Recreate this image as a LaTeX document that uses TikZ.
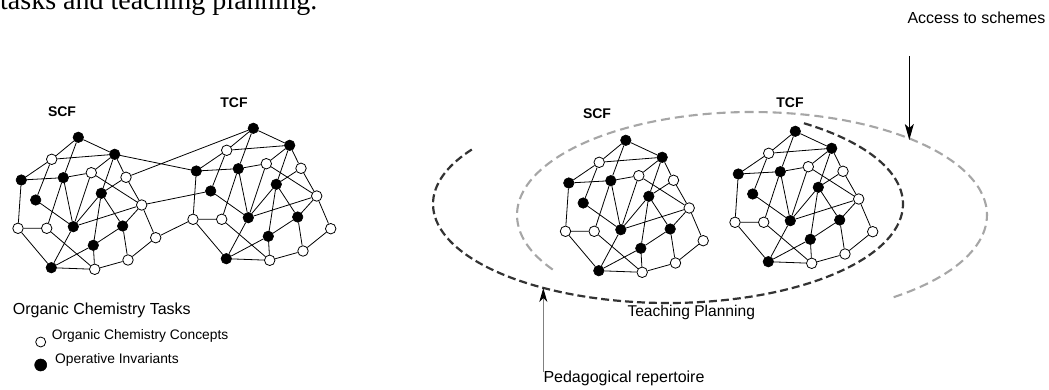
\documentclass[tikz,border=0pt]{standalone}
\usepackage{fontspec}
\setmainfont{Liberation Sans}
\newfontfamily\serifF{Liberation Serif}
\usetikzlibrary{arrows.meta}
\definecolor{darkdash}{HTML}{333333}
\definecolor{lightdash}{HTML}{A6A6A6}
\tikzset{
  fnode/.style={circle, fill=black, draw=black, line width=0.6pt, inner sep=0pt, minimum size=10.5pt},
  onode/.style={circle, fill=white, draw=black, line width=0.8pt, inner sep=0pt, minimum size=10.5pt},
  edgeline/.style={line width=0.8pt, black},
  lbl/.style={font=\fontsize{14}{16}\selectfont\bfseries, inner sep=0pt},
  txt/.style={font=\fontsize{16}{18}\selectfont, inner sep=0pt, anchor=base west},
  smalltxt/.style={font=\fontsize{13.8}{16}\selectfont, inner sep=0pt, anchor=base west},
  darkell/.style={draw=darkdash, line width=2.2pt, dash pattern=on 8pt off 4pt},
  lightell/.style={draw=lightdash, line width=2.1pt, dash pattern=on 9pt off 5pt},
}
\newcommand{\netgraph}[3]{%
\begin{scope}[shift={(#2,#3)}]
\node[fnode] (#1A) at (78.3,137.3) {};
\node[onode] (#1B) at (51.7,159.3) {};
\node[fnode] (#1C) at (114.7,154.3) {};
\node[fnode] (#1D) at (21.3,180) {};
\node[fnode] (#1E) at (63.3,177.7) {};
\node[onode] (#1F) at (91.3,172.7) {};
\node[onode] (#1G) at (126,177.3) {};
\node[fnode] (#1H) at (35.7,200) {};
\node[fnode] (#1I) at (101.3,193.3) {};
\node[onode] (#1J) at (141.7,205) {};
\node[onode] (#1K) at (18,228.3) {};
\node[onode] (#1L) at (46.7,228.3) {};
\node[fnode] (#1M) at (73.3,226.7) {};
\node[fnode] (#1N) at (122.7,226) {};
\node[fnode] (#1O) at (93.3,245.3) {};
\node[onode] (#1P) at (155.7,237.7) {};
\node[fnode] (#1Q) at (51.3,267.7) {};
\node[onode] (#1R) at (94.7,269.3) {};
\node[onode] (#1S) at (128,260) {};
\end{scope}
\draw[edgeline] (#1A)--(#1B) (#1A)--(#1C) (#1A)--(#1E) (#1B)--(#1C) (#1B)--(#1D)
  (#1B)--(#1H) (#1C)--(#1F) (#1C)--(#1G) (#1C)--(#1I) (#1D)--(#1E) (#1D)--(#1K)
  (#1E)--(#1F) (#1E)--(#1M) (#1E)--(#1L) (#1F)--(#1J) (#1F)--(#1M) (#1G)--(#1J)
  (#1G)--(#1I) (#1H)--(#1M) (#1I)--(#1M) (#1I)--(#1N) (#1I)--(#1O) (#1J)--(#1M)
  (#1J)--(#1N) (#1J)--(#1P) (#1K)--(#1L) (#1K)--(#1Q) (#1L)--(#1R) (#1M)--(#1Q)
  (#1N)--(#1O) (#1N)--(#1S) (#1O)--(#1Q) (#1O)--(#1R) (#1P)--(#1S) (#1Q)--(#1R)
  (#1R)--(#1S);
}
\begin{document}
\begin{tikzpicture}[x=1pt,y=-1pt]
\useasboundingbox (0,0) rectangle (1049,390);
\clip (0,0) rectangle (1049,390);
\fill[white] (0,0) rectangle (1049,390);
% cut-off heading line
\node[inner sep=0pt, anchor=base west, font=\serifF\fontsize{28}{30}\selectfont] (head) at (0,9.5) {tasks and teaching planning.};

% left picture
\netgraph{ls}{0}{0}
\netgraph{lt}{175}{-9}
\draw[edgeline] (lsC)--(ltD) (lsG)--(ltA) (lsJ)--(ltH) (lsP)--(ltK);
\node[lbl] (lscf) at (62,112) {SCF};
\node[lbl] (ltcf) at (234,103) {TCF};
\node[txt] (tasks) at (12.7,314) {Organic Chemistry Tasks};
\node[onode, minimum size=10pt] (legO) at (40.7,342) {};
\node[fnode, minimum size=12pt] (legF) at (40.7,365) {};
\node[smalltxt] (concepts) at (51.7,339.3) {Organic Chemistry Concepts};
\node[smalltxt] (invariants) at (55,363.3) {Operative Invariants};

% right picture
\draw[lightell] plot[domain=148:413, samples=120, smooth] ({752+235*cos(\x)},{215+103*sin(\x)});
\draw[darkell] plot[domain=213.4:-55, samples=120, smooth] ({668+235*cos(\x)},{204+99*sin(\x)});
\netgraph{rs}{547.5}{3}
\netgraph{rt}{717}{-6}
\node[lbl] (rscf) at (597,114) {SCF};
\node[lbl] (rtcf) at (790,103) {TCF};
\node[txt, font=\fontsize{15.6}{18}\selectfont] (teach) at (627.3,316.7) {Teaching Planning};
\node[txt] (access) at (907.3,24) {Access to schemes};
\node[txt] (peda) at (543.3,382.7) {Pedagogical repertoire};
\coordinate (accTop) at (909.3,56);
\coordinate (accTip) at (909.3,140);
\coordinate (pedBot) at (543.3,371.7);
\coordinate (pedTip) at (543.3,288);
\draw[line width=1pt, -{Stealth[length=16pt, width=9pt, inset=4pt]}] (accTop)--(accTip);
\draw[line width=1pt, gray, -{Stealth[length=14pt, width=8pt, inset=4pt, black]}] (pedBot)--(pedTip);
\end{tikzpicture}
\end{document}
